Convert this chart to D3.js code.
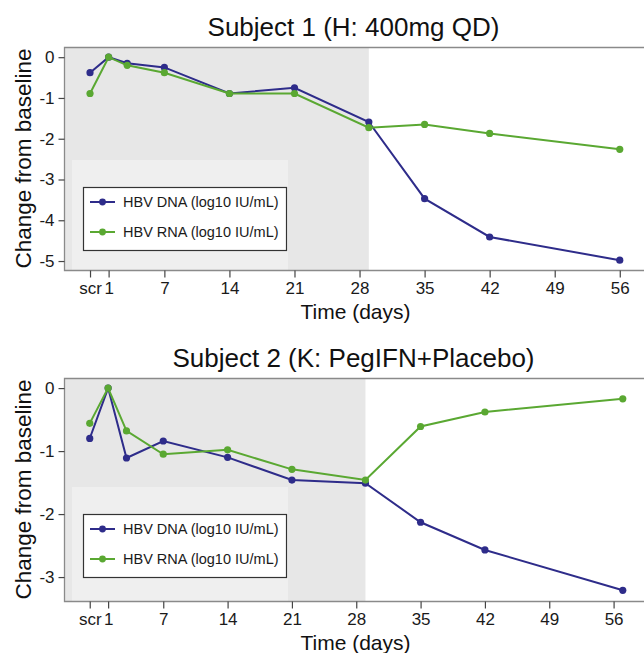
<!DOCTYPE html>
<html>
<head>
<meta charset="utf-8">
<script src="https://cdn.jsdelivr.net/npm/d3@7"></script>
<style>
  html, body { margin: 0; padding: 0; background: #fff; }
  svg { display: block; font-family: "Liberation Sans", Arial, Helvetica, sans-serif; }
</style>
</head>
<body>
<svg id="chart" width="644" height="653"></svg>
<script>
// Timepoints (days); screening is plotted at day -1 and labelled "scr"
const s1Days = [-1, 1, 3, 7, 14, 21, 29, 35, 42, 56];
const s1Dna  = [-0.38, 0, -0.15, -0.25, -0.89, -0.75, -1.59, -3.47, -4.41, -4.98];
const s1Rna  = [-0.89, 0, -0.20, -0.38, -0.89, -0.89, -1.73, -1.65, -1.87, -2.26];

const s2Days = [-1, 1, 3, 7, 14, 21, 29, 35, 42, 57];
const s2Dna  = [-0.80, 0, -1.11, -0.84, -1.10, -1.46, -1.51, -2.13, -2.57, -3.21];
const s2Rna  = [-0.56, 0, -0.68, -1.05, -0.98, -1.29, -1.46, -0.61, -0.38, -0.17];

const xTickValues = [-1, 1, 7, 14, 21, 28, 35, 42, 49, 56];
const xTickLabels = ["scr", "1", "7", "14", "21", "28", "35", "42", "49", "56"];
const s1YTicks = [0, -1, -2, -3, -4, -5];
const s2YTicks = [0, -1, -2, -3];
const treatmentEnd = 29;

const seriesNames = ["HBV DNA (log10 IU/mL)", "HBV RNA (log10 IU/mL)"];
const seriesColors = ["#2e2c8a", "#5aa832"];

const svg = d3.select("#chart");

function panel(cfg) {
  const { top, bottom, left, right, xDomain, yDomain, yTicks, title, days, dna, rna } = cfg;
  const g = svg.append("g");
  const x = d3.scaleLinear().domain(xDomain).range([left, right]);
  const y = d3.scaleLinear().domain(yDomain).range([top, bottom]);

  // treatment period shading
  g.append("rect")
    .attr("x", left).attr("y", top)
    .attr("width", x(treatmentEnd) - left).attr("height", bottom - top)
    .attr("fill", "#e7e7e7");

  // legend area (slightly lighter backdrop)
  const lgX = left + 19, lgY = cfg.legendTop, lgW = 203, lgH = 63;
  g.append("rect")
    .attr("x", lgX - 11).attr("y", lgY - 27)
    .attr("width", lgW + 13).attr("height", bottom - (lgY - 27))
    .attr("fill", "#efefef");

  // frame
  g.append("path")
    .attr("d", `M${right + 4},${top + 0.5} H${left + 0.5} V${bottom + 0.5} H${right + 4}`)
    .attr("fill", "none").attr("stroke", "#8a8a8a").attr("stroke-width", 1.3);

  // axes
  const xAxis = d3.axisBottom(x).tickValues(xTickValues)
    .tickFormat((d, i) => xTickLabels[i]).tickSize(7).tickPadding(4);
  const gx = g.append("g").attr("transform", `translate(0,${bottom + 0.5})`).call(xAxis);
  gx.select(".domain").remove();
  gx.selectAll(".tick line").attr("stroke", "#444").attr("stroke-width", 1.2);
  gx.selectAll(".tick text").attr("font-size", 17).attr("fill", "#1a1a1a")
    .attr("font-family", "Liberation Sans, Arial, sans-serif");

  const yAxis = d3.axisLeft(y).tickValues(yTicks).tickFormat(d3.format("d"))
    .tickSize(6).tickPadding(4);
  const gy = g.append("g").attr("transform", `translate(${left + 0.5},0)`).call(yAxis);
  gy.select(".domain").remove();
  gy.selectAll(".tick line").attr("stroke", "#444").attr("stroke-width", 1.2);
  gy.selectAll(".tick text").attr("font-size", 17).attr("fill", "#1a1a1a")
    .attr("font-family", "Liberation Sans, Arial, sans-serif")
    .text(d => d === 0 ? "0" : "-" + Math.abs(d));

  // series
  const line = d3.line().x(d => x(d[0])).y(d => y(d[1]));
  [dna, rna].forEach((vals, k) => {
    const pts = days.map((d, i) => [d, vals[i]]);
    g.append("path").datum(pts).attr("d", line)
      .attr("fill", "none").attr("stroke", seriesColors[k]).attr("stroke-width", 2);
    g.selectAll(null).data(pts).enter().append("circle")
      .attr("cx", d => x(d[0])).attr("cy", d => y(d[1])).attr("r", 3.6)
      .attr("fill", seriesColors[k]);
  });

  // legend
  g.append("rect").attr("x", lgX + 0.5).attr("y", lgY + 0.5)
    .attr("width", lgW).attr("height", lgH)
    .attr("fill", "#fff").attr("stroke", "#333").attr("stroke-width", 1.2);
  seriesNames.forEach((name, k) => {
    const ry = lgY + 15 + k * 30;
    g.append("line").attr("x1", lgX + 7).attr("x2", lgX + 32)
      .attr("y1", ry).attr("y2", ry)
      .attr("stroke", seriesColors[k]).attr("stroke-width", 2);
    g.append("circle").attr("cx", lgX + 19.5).attr("cy", ry).attr("r", 3.4)
      .attr("fill", seriesColors[k]);
    g.append("text").attr("x", lgX + 40).attr("y", ry + 5)
      .attr("font-size", 14.5).attr("fill", "#1a1a1a").text(name);
  });

  // titles
  const cx = (left + right) / 2;
  g.append("text").attr("x", cx).attr("y", top - 11)
    .attr("text-anchor", "middle").attr("font-size", 26).attr("fill", "#111")
    .text(title);
  g.append("text").attr("x", cx + 2).attr("y", bottom + 49)
    .attr("text-anchor", "middle").attr("font-size", 21).attr("fill", "#111")
    .text("Time (days)");
  g.append("text")
    .attr("transform", `translate(31,${(top + bottom) / 2}) rotate(-90)`)
    .attr("text-anchor", "middle").attr("font-size", 22.5).attr("fill", "#111")
    .text("Change from baseline");
}

panel({
  top: 47, bottom: 270, left: 64, right: 643,
  xDomain: [-3.8, 58.5], yDomain: [0.25, -5.22], yTicks: s1YTicks,
  legendTop: 187,
  title: "Subject 1 (H: 400mg QD)", days: s1Days, dna: s1Dna, rna: s1Rna
});

panel({
  top: 378, bottom: 601, left: 64, right: 643,
  xDomain: [-3.8, 59.2], yDomain: [0.16, -3.38], yTicks: s2YTicks,
  legendTop: 514,
  title: "Subject 2 (K: PegIFN+Placebo)", days: s2Days, dna: s2Dna, rna: s2Rna
});
</script>
</body>
</html>
